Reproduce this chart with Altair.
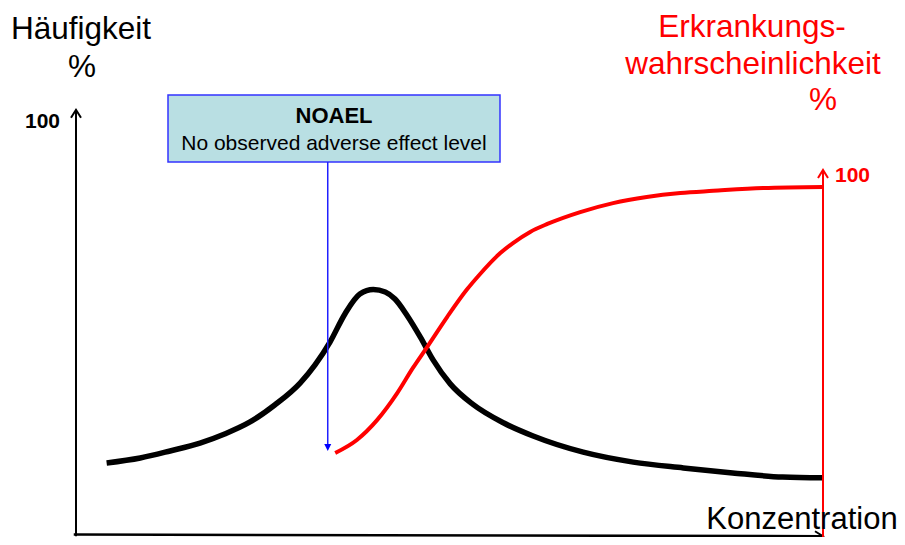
import altair as alt
import pandas as pd

# ---- data (schematic) ----
# black curve: Häufigkeit % over Konzentration
conc_black = [4.1, 8.6, 12.6, 16.6, 19.9, 23.3, 26.6, 30.0, 32.0, 34.0, 36.0, 38.0,
              39.8, 41.4, 42.7, 44.3, 46.1, 47.8, 50.1, 53.1, 57.2, 61.2, 67.9,
              74.6, 81.3, 87.9, 94.6, 100.0]
freq_black = [17.4, 18.6, 20.3, 22.2, 24.4, 27.3, 31.4, 36.7, 41.1, 46.6, 53.4, 58.2,
              59.3, 58.7, 57.0, 53.1, 47.8, 42.3, 36.5, 31.6, 27.1, 23.9, 20.0,
              17.6, 16.2, 15.0, 14.0, 13.8]
# red curve: Erkrankungswahrscheinlichkeit % over Konzentration
conc_red = [34.7, 37.6, 40.3, 43.0, 45.1, 47.0, 49.7, 52.3, 54.1, 56.8, 58.5, 60.8,
            63.1, 67.5, 71.9, 76.4, 80.9, 85.3, 92.0, 100.0]
prob_red = [22.8, 26.4, 31.9, 39.4, 46.4, 52.2, 60.6, 68.1, 72.5, 78.3, 81.1, 84.2,
            86.4, 89.7, 92.2, 93.9, 95.0, 95.6, 96.4, 96.7]
noael_conc = 33.7

left_title = ["Häufigkeit", "%"]
right_title = ["Erkrankungs-", "wahrscheinlichkeit", "%"]
x_title = "Konzentration"
tick_label = "100"
box_lines = ["NOAEL", "No observed adverse effect level"]

FONT = "Liberation Sans"
RED = "#FF0000"

black_df = pd.DataFrame({"c": conc_black, "v": freq_black})
red_df = pd.DataFrame({"c": conc_red, "v": prob_red})
one = pd.DataFrame({"a": [0]})

xs = alt.Scale(domain=[0, 100], range=[68, 815], nice=False, zero=False)
yl = alt.Scale(domain=[0, 100], range=[527, 113], nice=False, zero=False)
yr = alt.Scale(domain=[0, 100], range=[527, 167], nice=False, zero=False)

X = lambda f: alt.X(f, type="quantitative", scale=xs, axis=None)
YL = lambda f: alt.Y(f, type="quantitative", scale=yl, axis=None)
YR = lambda f: alt.Y(f, type="quantitative", scale=yr, axis=None)

# axes (left black, bottom black, right red)
left_axis_df = pd.DataFrame({"x": [0], "y": [-0.3], "x2": [0], "y2": [102.7]})
bottom_axis_df = pd.DataFrame({"x": [-0.3], "y": [0.1], "x2": [100], "y2": [-0.3]})
right_axis_df = pd.DataFrame({"x": [100], "y": [-1.0], "x2": [100], "y2": [101.4]})

left_axis = alt.Chart(left_axis_df).mark_rule(color="black", strokeWidth=2).encode(
    x=X("x"), y=YL("y"), x2="x2", y2="y2")
bottom_axis = alt.Chart(bottom_axis_df).mark_rule(color="black", strokeWidth=2.5).encode(
    x=X("x"), y=YL("y"), x2="x2", y2="y2")
left_arrow = alt.Chart(left_axis_df).mark_point(
    shape="M-1,1.6L0,0L1,1.6", filled=False, size=100, strokeWidth=2,
    color="black", opacity=1).encode(x=X("x2"), y=YL("y2"))
bottom_arrow = alt.Chart(bottom_axis_df).mark_point(
    shape="M-1.6,-1L0,0L-1.6,1", filled=False, size=100, strokeWidth=2,
    color="black", opacity=1).encode(x=X("x2"), y=YL("y2"))

black_line = alt.Chart(black_df).mark_line(
    color="black", strokeWidth=5.5, interpolate="monotone").encode(x=X("c"), y=YL("v"))

red_line = alt.Chart(red_df).mark_line(
    color=RED, strokeWidth=4, interpolate="monotone").encode(x=X("c"), y=YR("v"))
right_axis = alt.Chart(right_axis_df).mark_rule(color=RED, strokeWidth=2).encode(
    x=X("x"), y=YR("y"), x2="x2", y2="y2")
right_arrow = alt.Chart(right_axis_df).mark_point(
    shape="M-1,1.6L0,0L1,1.6", filled=False, size=100, strokeWidth=2,
    color=RED, opacity=1).encode(x=X("x2"), y=YR("y2"))

# NOAEL annotation
noael_df = pd.DataFrame({"c": [noael_conc]})
box = alt.Chart(one).mark_rect(fill="#B9DFE3", stroke="#3333FF", strokeWidth=1.5).encode(
    x=alt.value(160), x2=alt.value(492), y=alt.value(87), y2=alt.value(154))
blue_line = alt.Chart(noael_df).mark_rule(color="#2020FF", strokeWidth=1.5).encode(
    x=X("c"), y=alt.value(154), y2=alt.value(437))
blue_head = alt.Chart(noael_df).mark_point(
    shape="M-1,-2L1,-2L0,0Z", filled=True, size=49, color="#0000FF", opacity=1).encode(
    x=X("c"), y=alt.value(443))


def txt(s, x, y, size, color="black", weight="normal", align="center"):
    return alt.Chart(one).mark_text(
        text=s, font=FONT, fontSize=size, fontWeight=weight, color=color,
        align=align, baseline="alphabetic").encode(x=alt.value(x), y=alt.value(y))


texts = [
    txt(left_title[0], 73, 31, 31.5),
    txt(left_title[1], 74, 69, 31.5),
    txt(tick_label, 52, 120, 21, weight="bold", align="right"),
    txt(right_title[0], 744, 29, 31.5, color=RED),
    txt(right_title[1], 745, 66, 31.5, color=RED),
    txt(right_title[2], 815, 102, 31.5, color=RED),
    txt(tick_label, 827, 174, 21, color=RED, weight="bold", align="left"),
    txt(x_title, 794, 521, 31),
    txt(box_lines[0], 326, 115, 22, weight="bold"),
    txt(box_lines[1], 326, 142, 21),
]

chart = alt.layer(
    left_axis, bottom_axis, left_arrow, bottom_arrow, black_line,
    red_line, right_axis, right_arrow,
    box, blue_line, blue_head, *texts
).resolve_scale(y="independent").properties(
    width=889, height=529,
    autosize=alt.AutoSizeParams(type="none"), padding=0
).configure_view(stroke=None)

chart.save("out.html", embed_options={"renderer": "svg", "actions": False})
